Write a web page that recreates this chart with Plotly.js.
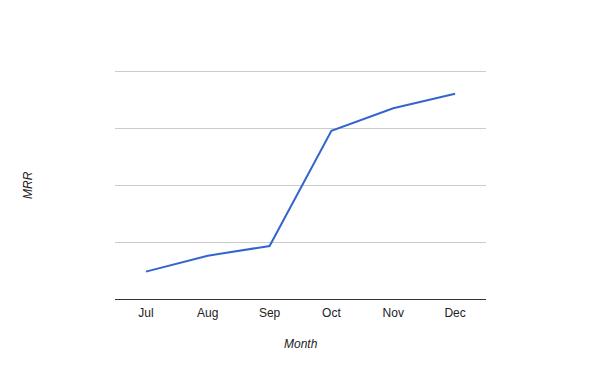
<!DOCTYPE html>
<html>
<head>
<meta charset="utf-8">
<script src="https://cdn.plot.ly/plotly-3.0.1.min.js"></script>
<style>html,body{margin:0;padding:0;background:#fff;}#chart{width:600px;height:371px;}</style>
</head>
<body>
<div id="chart"></div>
<script>
const months = ["Jul", "Aug", "Sep", "Oct", "Nov", "Dec"];
const mrr = [480, 760, 930, 2950, 3345, 3600];
const yMax = 4000;
const xTitle = "Month";
const yTitle = "MRR";

const trace = {
  x: months,
  y: mrr,
  type: "scatter",
  mode: "lines",
  line: {color: "#3366cc", width: 2},
  hoverinfo: "x+y"
};

const layout = {
  width: 600,
  height: 371,
  margin: {l: 115, r: 114, t: 71, b: 72},
  paper_bgcolor: "#ffffff",
  plot_bgcolor: "#ffffff",
  showlegend: false,
  font: {family: "Liberation Sans, Arial, sans-serif", size: 12, color: "#222222"},
  xaxis: {
    type: "category",
    range: [-0.5, 5.5],
    showgrid: false,
    zeroline: false,
    showline: false,
    ticks: "",
    ticklabelstandoff: 5,
    tickfont: {size: 12, color: "#222222"},
    automargin: false
  },
  yaxis: {
    range: [0, yMax],
    dtick: 1000,
    showticklabels: false,
    showgrid: true,
    gridcolor: "#cccccc",
    gridwidth: 1,
    zeroline: true,
    zerolinecolor: "#333333",
    zerolinewidth: 1,
    showline: false,
    ticks: "",
    automargin: false
  },
  shapes: [
    {
      type: "line", xref: "paper", yref: "y",
      x0: 0, x1: 1,
      ysizemode: "pixel", yanchor: yMax, y0: -0.5, y1: -0.5,
      line: {color: "#cccccc", width: 1},
      layer: "below"
    }
  ],
  annotations: [
    {
      text: "<i>" + xTitle + "</i>",
      xref: "paper", yref: "paper",
      x: 0.5, y: 0,
      xanchor: "center", yanchor: "middle",
      yshift: -45,
      showarrow: false,
      font: {size: 12, color: "#222222"}
    },
    {
      text: "<i>" + yTitle + "</i>",
      xref: "paper", yref: "paper",
      x: 0, y: 0.5,
      xanchor: "center", yanchor: "middle",
      xshift: -87,
      textangle: -90,
      showarrow: false,
      font: {size: 12, color: "#222222"}
    }
  ]
};

Plotly.newPlot("chart", [trace], layout, {displayModeBar: false, staticPlot: true});
</script>
</body>
</html>
